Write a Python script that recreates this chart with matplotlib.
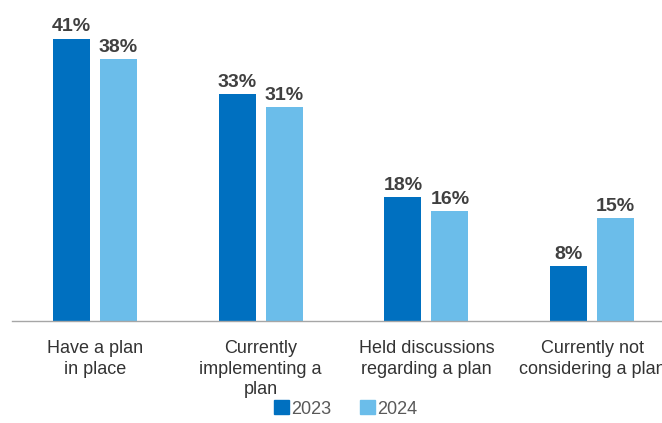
import matplotlib
matplotlib.use("Agg")
import matplotlib.pyplot as plt
import numpy as np
from matplotlib.patches import Patch

categories = ["Have a plan\nin place", "Currently\nimplementing a\nplan",
              "Held discussions\nregarding a plan", "Currently not\nconsidering a plan"]
series_names = ["2023", "2024"]
values_2023 = [41, 33, 18, 8]
values_2024 = [38, 31, 16, 15]

c2023 = "#0070C0"
c2024 = "#6BBDEA"
label_col = "#404040"

plt.rcParams['font.family'] = ['Liberation Sans Narrow', 'Liberation Sans', 'DejaVu Sans']

fig = plt.figure(figsize=(6.62, 4.23), dpi=100)
ax = fig.add_axes([12/662, 102/423, 663/662, 310/423])

x = np.arange(len(categories))
bw = 37/166
off = 23.5/166
b1 = ax.bar(x - off, values_2023, bw, color=c2023, label=series_names[0])
b2 = ax.bar(x + off, values_2024, bw, color=c2024, label=series_names[1])

for bars, vals in ((b1, values_2023), (b2, values_2024)):
    for r, v in zip(bars, vals):
        ax.text(r.get_x() + r.get_width()/2, v + 0.45, f"{v}%", ha="center", va="bottom",
                fontsize=14, fontweight="bold", color=label_col, clip_on=False)

ax.set_xlim(-0.5, 3.5)
ax.set_ylim(0, 45)
ax.set_yticks([])
ax.set_xticks(x)
ax.set_xticklabels(categories, fontsize=13, color="#333333", linespacing=1.25)
ax.tick_params(axis="x", length=0, pad=14)
for s in ("top", "right", "left"):
    ax.spines[s].set_visible(False)
ax.spines["bottom"].set_color("#A6A6A6")
ax.spines["bottom"].set_linewidth(1)

handles = [Patch(color=c2023, label="2023"), Patch(color=c2024, label="2024")]
fig.legend(handles=handles, loc="center", bbox_to_anchor=(346/662, 1 - 409/423), ncol=2,
           frameon=False, fontsize=13, handlelength=0.8, handleheight=0.8,
           handletextpad=0.15, columnspacing=1.6, labelcolor="#595959")

fig.savefig("out.png", dpi=100)
